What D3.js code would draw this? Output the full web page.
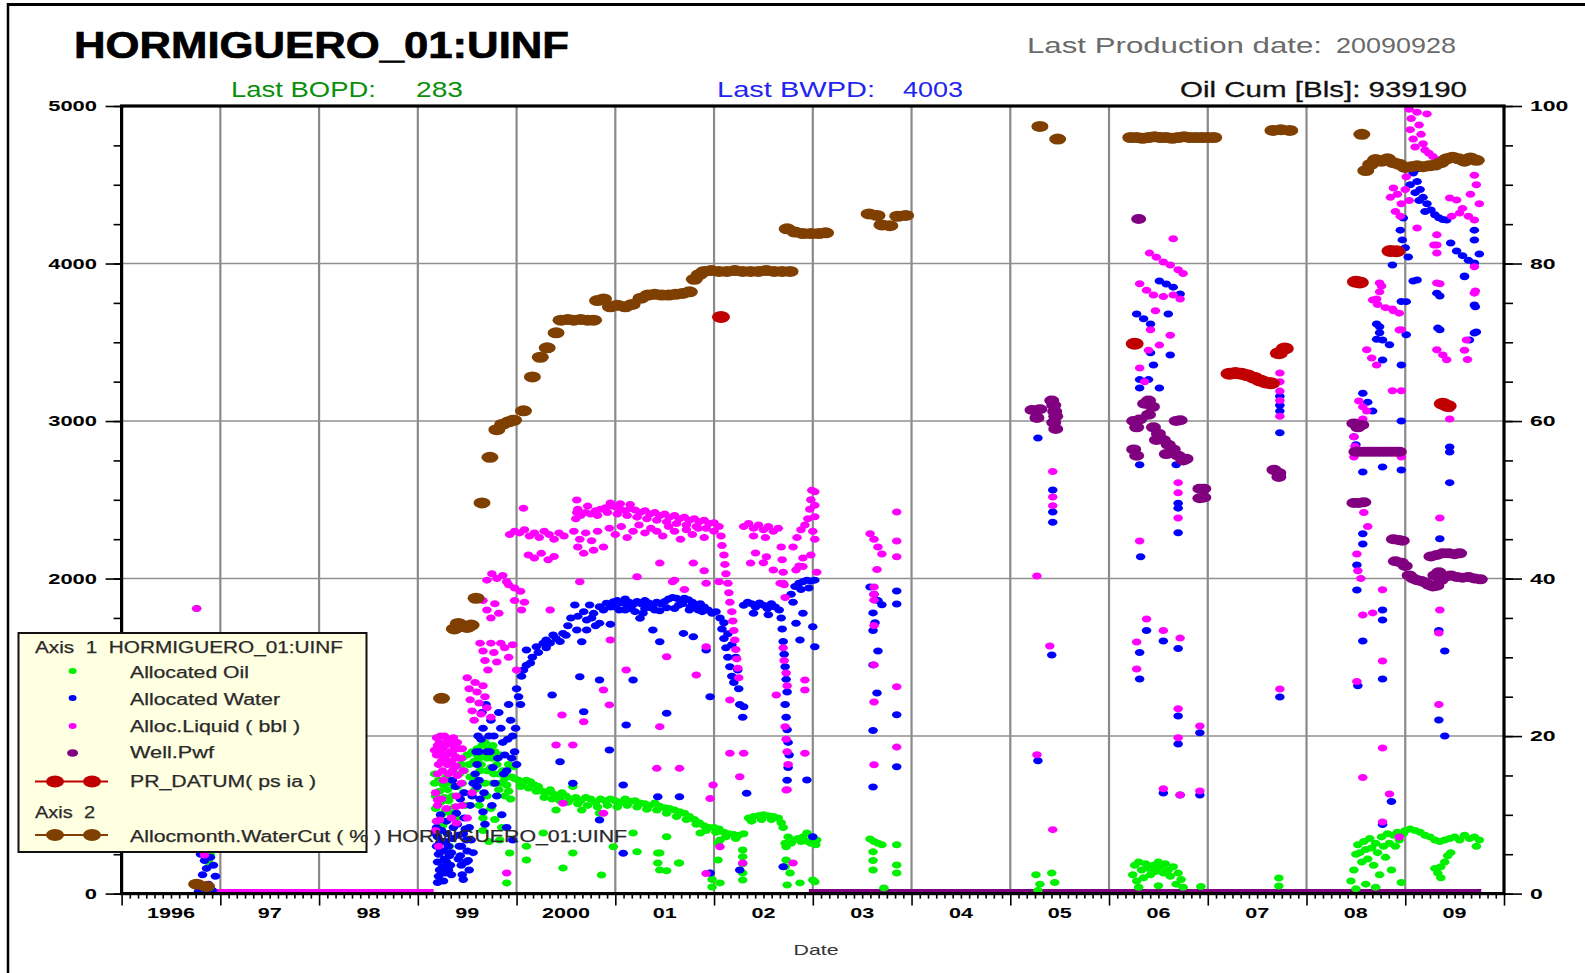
<!DOCTYPE html>
<html><head><meta charset="utf-8">
<script src="https://cdn.jsdelivr.net/npm/d3@7"></script>
<style>
html,body{margin:0;padding:0;background:#fff;}
svg{display:block;}
text{font-family:"Liberation Sans",Arial,sans-serif;white-space:pre;}
</style></head><body>
<svg id="c" width="1585" height="973"></svg>
<script>
// ---------------- DATA (decimal year, value) ----------------
const xTickYears = [1996,1997,1998,1999,2000,2001,2002,2003,2004,2005,2006,2007,2008,2009];
const xTickLabels = ["1996","97","98","99","2000","01","02","03","04","05","06","07","08","09"];
const leftTicks = [0,1000,2000,3000,4000,5000];
const leftTickLabels = ["0","1000","2000","3000","4000","5000"];
const rightTicks = [0,20,40,60,80,100];
const rightTickLabels = ["0","20","40","60","80","100"];

const oilData = [
[1996.76,1810],[1996.90,245],[1996.88,200],
[1999.17,760],[1999.17,700],[1999.18,620],[1999.18,540],[1999.19,460],[1999.20,380],[1999.21,720],[1999.22,650],[1999.23,580],[1999.24,500],[1999.25,430],[1999.26,690],[1999.27,610],[1999.28,530],[1999.29,740],[1999.30,660],[1999.31,590],[1999.32,300],[1999.34,700],[1999.35,620],[1999.37,550],[1999.39,480],[1999.40,680],[1999.42,760],[1999.44,820],[1999.45,700],[1999.46,640],[1999.45,860],[1999.47,780],[1999.48,560],[1999.50,880],[1999.52,820],[1999.53,740],[1999.55,900],[1999.57,840],[1999.58,660],[1999.60,920],[1999.62,860],[1999.63,780],[1999.65,940],[1999.67,880],[1999.68,700],[1999.70,860],[1999.72,920],[1999.74,800],[1999.75,860],[1999.77,760],[1999.78,900],[1999.80,820],[1999.82,760],[1999.84,700],[1999.86,780],[1999.88,730],[1999.90,690],[1999.92,650],[1999.95,740],[1999.98,730],
[1999.62,560],[1999.66,480],[1999.70,620],[1999.74,540],[1999.78,470],[1999.85,420],[1999.66,400],[1999.72,330],[1999.33,510],[1999.26,448],[1999.83,340],[1999.93,258],[1999.90,68],[1999.97,806],
[1999.58,720],[1999.64,820],[1999.70,780],[1999.76,700],[1999.82,660],[1999.88,620],[1999.94,600],[1999.60,880],[1999.68,960],[1999.76,940],[1999.84,880],[1999.92,820],
[2000.02,720],[2000.06,700],[2000.10,720],[2000.14,710],[2000.18,690],[2000.22,680],[2000.26,650],[2000.30,640],[2000.34,660],[2000.38,630],[2000.42,620],[2000.46,640],[2000.50,620],[2000.55,600],[2000.60,610],[2000.65,590],[2000.70,610],[2000.75,600],[2000.80,580],[2000.85,600],[2000.90,590],[2000.95,600],[2001.00,590],[2001.05,580],[2001.10,600],[2001.15,585],[2001.20,590],[2001.25,575],[2001.30,570],[2001.35,560],[2001.40,575],[2001.45,555],[2001.50,545],
[2000.04,680],[2000.12,670],[2000.20,650],[2000.28,610],[2000.36,600],[2000.44,590],[2000.52,580],[2000.62,570],[2000.72,560],[2000.82,550],[2000.92,560],[2001.02,550],[2001.12,560],[2001.22,550],[2001.32,535],[2001.42,530],[2001.52,510],[2001.62,490],[2001.72,470],[2001.82,440],[2001.92,400],[2002.02,390],[2002.12,360],[2002.22,350],[2002.38,460],[2002.48,470],[2002.58,470],[2002.68,450],[2002.78,320],[2002.88,330],[2002.98,320],
[2001.55,540],[2001.60,530],[2001.65,520],[2001.70,510],[2001.75,490],[2001.80,470],[2001.85,450],[2001.90,430],[2001.95,420],[2002.00,420],[2002.05,410],[2002.10,390],[2002.15,380],[2002.20,375],[2002.25,370],[2002.30,380],[2002.35,480],[2002.40,490],[2002.45,495],[2002.50,500],[2002.55,495],[2002.60,490],[2002.65,480],[2002.70,420],[2002.75,360],[2002.80,340],[2002.85,350],[2002.90,360],[2002.95,330],[2003.00,350],[2003.03,310],
[2000.40,530],[2000.57,680],[2000.66,530],[2000.84,510],[2000.10,300],[2000.10,213],[2000.27,385],[2000.47,163],[2000.57,258],[2000.86,118],[2000.98,298],[2001.22,266],[2001.18,385],[2001.45,258],[2001.45,150],[2001.52,361],[2001.65,194],[2001.86,385],[2001.96,131],[2002.06,340],[2002.06,68],[2002.29,234],[2002.29,131],[2002.73,298],[2002.73,213],[2002.77,131],[2002.87,68],[2003.00,86],[2003.04,340],[2002.94,385],
[2001.43,258],[2001.43,194],[2001.64,194],[2001.52,145],[2001.98,90],[2001.98,42],[2002.04,320],[2002.04,213],[2002.29,277],[2002.29,190],[2002.29,86],[2002.72,320],[2002.72,170],[2002.74,55],[2003.02,75],
[2003.58,347],[2003.62,330],[2003.66,320],[2003.70,310],[2003.61,265],[2003.61,210],[2003.61,150],[2003.85,310],[2003.85,181],[2003.85,131],[2003.72,36],
[2005.26,120],[2005.30,60],[2005.42,130],[2005.45,70],[2005.28,20],
[2006.24,120],[2006.26,180],[2006.28,80],[2006.30,200],[2006.33,150],[2006.35,100],[2006.37,190],[2006.40,160],[2006.42,120],[2006.45,180],[2006.47,140],[2006.50,200],[2006.52,170],[2006.55,130],[2006.57,190],[2006.60,150],[2006.62,110],[2006.65,170],[2006.68,60],[2006.70,130],[2006.73,90],[2006.75,40],[2006.30,40],[2006.50,50],[2006.93,45],
[2007.72,99],[2007.72,48],
[2008.45,80],[2008.48,150],[2008.50,250],[2008.52,310],[2008.54,260],[2008.56,200],[2008.58,330],[2008.60,280],[2008.62,220],[2008.64,350],[2008.66,290],[2008.68,180],[2008.70,320],[2008.72,260],[2008.74,120],[2008.76,360],[2008.78,300],[2008.80,230],[2008.82,380],[2008.84,320],[2008.86,150],[2008.88,370],[2008.90,300],[2008.92,390],[2008.94,340],[2008.96,70],[2008.98,380],[2009.00,400],[2009.05,410],[2009.10,400],[2009.15,390],[2009.20,370],[2009.25,360],[2009.30,340],[2009.35,330],[2009.40,340],[2009.45,350],[2009.50,360],[2009.55,340],[2009.60,370],[2009.65,350],[2009.70,360],[2009.75,340],[2009.72,300],
[2009.30,160],[2009.33,130],[2009.36,170],[2009.40,200],[2009.43,240],[2009.46,260],[2009.36,100],[2008.50,30],[2008.60,60],[2008.70,40]
];

const waterData = [
[1996.80,250],[1996.84,210],[1996.86,160],[1996.82,120],[1996.90,230],[1996.93,180],[1996.95,110],[1996.88,60],[1996.82,30],[1996.92,20],[1996.78,15],
[1999.19,420],[1999.20,360],[1999.19,300],[1999.21,250],[1999.20,200],[1999.22,150],[1999.21,110],[1999.24,400],[1999.25,330],[1999.26,270],[1999.27,220],[1999.25,170],[1999.28,130],[1999.30,380],[1999.31,300],[1999.32,240],[1999.33,180],[1999.34,120],[1999.29,460],[1999.23,500],[1999.20,70],[1999.26,80],
[1999.18,380],[1999.22,320],[1999.23,270],[1999.28,330],[1999.29,200],[1999.31,150],[1999.34,260],[1999.35,350],[1999.36,420],[1999.41,220],[1999.44,300],[1999.46,380],[1999.49,200],[1999.52,420],[1999.54,340],[1999.56,260],
[1999.39,510],[1999.40,440],[1999.41,370],[1999.42,300],[1999.43,240],[1999.44,180],[1999.45,120],[1999.47,480],[1999.48,410],[1999.49,340],[1999.50,270],[1999.51,210],[1999.52,150],[1999.53,560],[1999.55,620],[1999.56,700],[1999.47,640],[1999.43,600],[1999.38,680],[1999.35,720],[1999.46,90],
[1999.58,760],[1999.60,820],[1999.62,900],[1999.64,980],[1999.66,1050],[1999.60,680],[1999.63,600],[1999.66,520],[1999.68,440],[1999.70,900],[1999.72,1000],[1999.74,1100],[1999.76,800],[1999.78,700],[1999.80,620],[1999.82,1150],[1999.84,1050],[1999.86,960],[1999.88,880],[1999.90,780],[1999.92,1200],[1999.94,1100],[1999.96,1000],[1999.98,900],[2000.00,820],[1999.85,500],[1999.90,420],[1999.96,340],[2000.02,1250],[2000.05,1380],
[1999.59,900],[1999.61,1000],[1999.65,1150],[1999.69,1200],[1999.73,900],[1999.77,1000],[1999.81,860],[1999.87,760],[1999.91,980],[1999.95,860],[1999.99,1050],[1999.62,720],[1999.67,640],[1999.75,560],
[2000.07,1420],[2000.14,1464],[2000.10,1546],[2000.20,1567],[2000.27,1589],[2000.30,1610],[2000.37,1642],[2000.47,1652],[2000.61,1673],[2000.66,1599],[2000.71,1737],[2000.78,1779],[2000.84,1821],[2000.91,1843],[2000.98,1853],[2000.74,1832],[2000.59,1832],[2000.71,1673],[2000.84,1717],[2000.95,1710],
[2000.00,1300],[2000.04,1200],[2000.10,1450],[2000.16,1500],[2000.22,1530],[2000.30,1560],[2000.34,1590],[2000.40,1620],[2000.44,1600],[2000.50,1640],
[2000.52,1700],[2000.55,1750],[2000.62,1760],[2000.68,1790],[2000.76,1750],[2000.88,1800],[2000.95,1820],[2000.80,1700],
[2001.02,1860],[2001.06,1845],[2001.10,1870],[2001.14,1850],[2001.18,1835],[2001.22,1855],[2001.26,1840],[2001.30,1860],[2001.34,1845],[2001.38,1830],[2001.42,1850],[2001.46,1840],[2001.50,1855],[2001.54,1870],[2001.58,1880],[2001.62,1875],[2001.66,1860],[2001.70,1875],[2001.74,1865],[2001.78,1850],[2001.82,1830],[2001.86,1840],[2001.90,1820],[2001.94,1800],[2001.98,1780],[2002.02,1790],[2001.10,1800],[2001.20,1790],[2001.30,1810],[2001.45,1795],[2001.60,1810],[2001.75,1800],
[2001.04,1800],[2001.16,1810],[2001.28,1780],[2001.40,1800],[2001.52,1815],[2001.64,1830],[2001.76,1820],[2001.88,1790],[2001.00,1820],[2001.12,1830],[2001.36,1815],[2001.68,1840],[2001.84,1800],
[2002.06,1750],[2002.08,1680],[2002.10,1620],[2002.12,1560],[2002.14,1500],[2002.16,1440],[2002.18,1380],[2002.20,1340],[2002.10,1720],[2002.14,1650],[2002.18,1580],[2002.22,1500],[2002.24,1420],[2002.25,1300],[2002.26,1200],
[2002.30,1830],[2002.34,1850],[2002.38,1840],[2002.42,1820],[2002.46,1845],[2002.50,1830],[2002.54,1810],[2002.58,1840],[2002.62,1820],[2002.66,1800],[2002.40,1780],[2002.55,1770],
[2002.68,1750],[2002.69,1680],[2002.70,1600],[2002.71,1520],[2002.72,1440],[2002.73,1360],[2002.74,1280],[2002.72,1200],[2002.73,1120],[2002.74,1040],[2002.75,960],[2002.76,880],[2002.75,800],[2002.74,720],
[2002.78,1900],[2002.82,1950],[2002.86,1970],[2002.90,1980],[2002.94,1990],[2002.98,1985],[2003.02,1990],[2002.80,1850],[2002.88,1930],[2002.96,1940],
[2000.64,1377],[2000.84,1356],[2001.18,1356],[2000.36,1261],[2000.68,1155],[2001.11,1070],[2001.52,1145],[2001.96,1250],[2002.30,1186],[2002.29,1120],[2000.44,837],[2000.57,700],[2000.94,911],[2001.08,689],[2001.43,615],[2001.65,615],[2002.33,637],[2002.94,721],[2003.00,361],[2001.25,1748],[2001.38,1673],[2001.69,1652],[2001.79,1631],[2001.92,1546],[2001.45,1599],[2002.87,1610],[2003.00,1694],[2002.83,1716],[2003.02,1567],[2002.90,1780],[2000.84,467],[2001.08,256],[2002.70,171],[2002.26,150],[2001.96,131],
[2003.58,1946],[2003.62,1900],[2003.66,1860],[2003.70,1833],[2003.85,1921],[2003.85,1838],[2003.61,1782],[2003.63,1720],[2003.61,1670],[2003.66,1540],[2003.61,1452],[2003.65,1273],[2003.61,1035],[2003.85,1135],[2003.85,805],[2003.61,677],
[2005.28,2892],[2005.43,2562],[2005.43,2423],[2005.43,2357],[2005.42,1515],[2005.28,844],
[2006.51,3889],[2006.58,3870],[2006.65,3850],[2006.72,3807],[2006.28,3679],[2006.35,3650],[2006.42,3616],[2006.60,3679],[2006.42,3434],[2006.62,3419],[2006.45,3356],[2006.31,3263],[2006.40,3263],[2006.31,3210],[2006.51,3210],[2006.31,2722],[2006.68,2722],[2006.70,2478],[2006.70,2447],[2006.70,2291],[2006.32,2139],[2006.38,1670],[2006.55,1604],[2006.70,1556],[2006.31,1530],[2006.31,1362],[2006.70,1127],[2006.70,950],[2006.92,1021],[2006.55,639],[2006.72,626],[2006.92,626],
[2007.73,3158],[2007.73,3100],[2007.73,3063],[2007.73,2926],[2007.73,1248],
[2009.08,4575],[2009.12,4520],[2009.15,4470],[2009.18,4420],[2009.22,4380],[2009.26,4340],[2009.30,4310],[2009.34,4290],[2009.38,4280],[2009.42,4276],[2009.10,4450],[2009.14,4400],[2009.20,4330],[2009.05,4500],[2009.12,4600],
[2008.98,4289],[2008.95,4212],[2008.97,4150],[2009.00,4100],[2009.03,4041],[2008.87,3990],[2009.46,4130],[2009.52,4080],[2009.58,4050],[2009.64,4020],[2009.70,4003],[2009.75,4060],[2009.70,4212],[2009.70,4149],[2009.60,3916],[2009.12,3895],[2009.32,3812],[2009.01,3758],[2008.74,3599],[2009.70,3737],[2009.70,3559],[2009.33,3590],
[2008.96,3759],[2008.71,3616],[2008.74,3560],[2008.77,3514],[2008.71,3519],[2008.84,3484],[2008.77,3387],[2008.96,3356],[2008.57,3176],[2008.62,3120],[2008.67,3063],[2008.48,2900],[2008.50,2850],[2008.48,2803],[2008.57,2676],[2008.77,2708],[2008.96,2689],[2008.57,2285],[2008.57,2220],[2008.51,2086],[2008.51,1927],[2008.57,1604],[2008.77,1800],[2008.77,1737],[2008.77,1362],[2008.86,585],[2008.77,439],[2009.01,3548],[2009.08,3889],[2008.96,3000],[2009.35,3794],[2009.35,3580],[2009.45,2835],[2009.45,2803],[2009.45,2609],[2009.35,2253],[2009.34,1670],[2009.40,1540],[2009.34,1102],[2009.71,3726],[2009.65,3514],[2009.60,3921],[2009.72,3565],[2008.52,1320],[2009.40,1000]
];

const liquidData = [
[1996.76,1810],[1996.84,245],
[1999.19,990],[1999.20,940],[1999.19,880],[1999.21,820],[1999.20,760],[1999.22,960],[1999.23,900],[1999.24,840],[1999.25,780],[1999.26,720],[1999.27,1000],[1999.28,940],[1999.29,880],[1999.30,820],[1999.31,760],[1999.32,960],[1999.33,900],[1999.34,840],[1999.35,780],[1999.36,990],[1999.37,930],[1999.38,870],[1999.39,810],[1999.40,750],[1999.42,920],[1999.44,860],[1999.18,640],[1999.20,560],[1999.19,460],[1999.18,400],[1999.21,300],[1999.24,600],[1999.29,540],[1999.34,480],[1999.39,620],[1999.44,700],[1999.45,560],[1999.50,480],[1999.55,640],[1999.20,594],[1999.22,467],[1999.39,552],[1999.39,448],[1999.90,131],
[1999.17,910],[1999.21,880],[1999.23,1000],[1999.25,920],[1999.27,860],[1999.30,980],[1999.32,840],[1999.35,900],[1999.37,800],[1999.41,860],[1999.40,960],[1999.45,920],[1999.46,780],
[1999.50,1370],[1999.52,1300],[1999.53,1230],[1999.55,1160],[1999.57,1100],[1999.58,1340],[1999.60,1280],[1999.62,1210],[1999.64,1140],[1999.66,1320],[1999.68,1250],[1999.70,1180],[1999.74,1120],
[1999.63,1590],[1999.66,1540],[1999.68,1480],[1999.71,1420],[1999.74,1590],[1999.77,1530],[1999.80,1470],[1999.84,1590],[1999.88,1560],[1999.92,1500],[1999.96,1580],[2000.00,1420],
[1999.66,1860],[1999.70,1800],[1999.74,1750],[1999.78,1840],[1999.82,1780],[1999.98,1860],[2000.05,1800],[2000.08,1850],
[1999.70,1990],[1999.75,2030],[1999.80,2000],[1999.86,2020],[1999.92,1960],[1999.98,1940],[2000.04,1920],[1999.90,1980],
[1999.93,2280],[1999.98,2300],[2000.03,2290],[2000.08,2310],[2000.13,2270],[2000.18,2290],[2000.23,2260],[2000.28,2300],[2000.33,2280],[2000.38,2250],[2000.43,2290],[2000.48,2270],[2000.07,2446],[2000.61,2499],[2000.61,2420],
[2000.12,2150],[2000.18,2130],[2000.25,2160],[2000.32,2120],[2000.38,2140],[2000.62,2200],[2000.68,2160],[2000.78,2180],
[2000.60,2380],[2000.65,2400],[2000.70,2420],[2000.75,2410],[2000.80,2430],[2000.85,2440],[2000.90,2450],[2000.95,2460],[2001.00,2455],[2001.05,2440],[2001.10,2430],[2001.15,2445],[2001.20,2435],[2001.25,2420],[2001.30,2430],[2001.35,2410],[2001.40,2420],[2001.45,2400],[2001.50,2410],[2001.55,2390],[2001.60,2400],[2001.65,2380],[2001.70,2390],[2001.75,2370],[2001.80,2380],[2001.85,2360],[2001.90,2370],[2001.95,2350],[2002.00,2355],
[2000.62,2440],[2000.72,2460],[2000.82,2400],[2000.92,2420],[2001.02,2410],[2001.12,2400],[2001.22,2390],[2001.32,2380],[2001.42,2370],[2001.52,2360],[2001.62,2350],[2001.72,2340],[2001.82,2330],[2001.92,2320],[2002.00,2300],[2000.95,2480],[2001.05,2475],[2001.15,2470],
[2000.58,2300],[2000.64,2250],[2000.70,2290],[2000.76,2240],[2000.82,2300],[2000.88,2200],[2000.94,2320],[2001.00,2280],[2001.06,2330],[2001.12,2260],[2001.18,2300],[2001.24,2340],[2001.30,2290],[2001.36,2320],[2001.42,2300],[2001.48,2270],[2001.54,2330],[2001.60,2300],[2001.66,2250],[2001.72,2310],[2001.78,2280],[2001.84,2320],[2001.90,2260],
[2002.05,2330],[2002.07,2270],[2002.08,2210],[2002.10,2150],[2002.11,2090],[2002.12,2030],[2002.14,1970],[2002.15,1910],[2002.16,1850],[2002.18,1790],[2002.19,1730],[2002.20,1670],[2002.21,1610],[2002.22,1550],[2002.23,1490],[2002.24,1430],[2002.25,1370],
[2002.30,2330],[2002.35,2350],[2002.40,2320],[2002.45,2340],[2002.50,2310],[2002.55,2330],[2002.60,2300],[2002.65,2320],[2002.40,2270],[2002.52,2260],[2002.42,2162],[2002.50,2100],[2002.60,2054],
[2002.68,2200],[2002.69,2120],[2002.70,2040],[2002.71,1960],[2002.72,1880],[2002.70,1560],[2002.71,1480],[2002.73,1400],[2002.74,1320],[2002.72,1060],[2002.73,980],[2002.74,900],[2002.75,820],[2002.74,660],
[2002.80,2200],[2002.84,2260],[2002.88,2310],[2002.92,2340],[2002.95,2380],[2002.97,2440],[2002.98,2500],[2002.99,2560],[2003.00,2300],[2003.02,2250],[2002.98,2150],[2002.90,2130],[2002.86,2080],[2003.04,2040],[2003.02,2551],[2003.02,2466],[2003.02,2392],
[2000.34,1800],[2000.95,1610],[2001.11,1420],[2000.88,1293],[2000.94,1198],[2001.52,1504],[2001.82,1388],[2002.16,1229],[2002.92,1356],[2002.92,1293],[2002.63,1261],[2001.92,1567],[2001.45,1060],[2000.68,1091],[2000.46,1134],[2000.40,943],[2000.57,943],[2001.42,795],[2001.65,795],[2000.47,573],[2000.88,510],[2001.99,689],[2001.96,604],[2002.16,891],[2002.30,891],[2002.26,742],[2002.92,891],[2002.73,657],[2002.06,298],[2002.29,194],[2002.80,194],[2001.92,128],
[2001.58,1980],[2001.60,1990],[2001.90,2050],[2001.70,1930],[2000.64,1980],[2002.05,1980],[2002.70,1970],[2001.22,2012],[2001.45,2098],[2001.79,2098],[2001.92,1970],[2002.37,2098],[2002.53,2139],[2002.67,1970],[2002.83,2054],[2002.90,2077],
[2003.58,2285],[2003.62,2250],[2003.66,2200],[2003.70,2156],[2003.85,2423],[2003.85,2238],[2003.85,2139],[2003.65,2058],[2003.62,1946],[2003.62,1900],[2003.62,1863],[2003.62,1702],[2003.62,1452],[2003.62,1216],[2003.85,1313],[2003.85,930],[2003.62,818],
[2005.27,2016],[2005.43,2680],[2005.43,2518],[2005.43,2463],[2005.40,1572],[2005.27,882],[2005.43,406],
[2006.65,4157],[2006.41,4066],[2006.48,4040],[2006.55,4010],[2006.62,3990],[2006.70,3960],[2006.75,3937],[2006.31,3872],[2006.38,3830],[2006.45,3800],[2006.55,3790],[2006.65,3800],[2006.72,3775],[2006.42,3580],[2006.51,3482],[2006.62,3545],[2006.31,3337],[2006.31,2238],[2006.38,1743],[2006.28,1597],[2006.28,1426],[2006.55,1670],[2006.72,1622],[2006.70,1174],[2006.70,989],[2006.92,1064],[2006.55,665],[2006.72,626],[2006.92,651],[2006.70,2609],[2006.70,2544],[2006.70,2385],[2006.47,3700],[2006.40,3450],[2006.36,3250],
[2007.73,3305],[2007.73,3250],[2007.73,3190],[2007.73,3130],[2007.73,3030],[2007.73,1299],
[2009.04,4980],[2009.06,4920],[2009.05,4850],[2009.08,4790],[2009.10,4740],[2009.12,4960],[2009.14,4880],[2009.16,4820],[2009.18,4760],[2009.20,4720],[2009.24,4700],[2009.28,4680],[2009.32,4660],[2009.36,4650],[2009.22,4950],
[2008.85,4420],[2008.88,4480],[2008.92,4440],[2008.96,4380],[2008.90,4330],[2008.95,4300],[2009.00,4470],[2009.04,4400],[2009.01,4551],
[2009.45,4416],[2009.52,4403],[2009.58,4350],[2009.64,4300],[2009.70,4276],[2009.75,4380],[2009.70,4560],[2009.72,4500],[2009.66,4440],[2009.55,4320],[2009.47,4300],
[2008.74,3876],[2008.74,3820],[2008.67,3768],[2008.72,3740],[2008.80,3720],[2008.88,3700],[2008.94,3685],[2008.94,3578],[2009.32,4182],[2009.32,4118],[2009.32,4067],[2009.32,3876],[2009.70,3812],[2009.70,3980],[2009.12,4225],
[2008.76,3857],[2008.71,3775],[2008.87,3711],[2008.61,3452],[2008.66,3400],[2008.71,3356],[2008.53,3127],[2008.57,3090],[2008.61,3063],[2008.87,3192],[2008.96,3580],[2008.96,3192],[2008.96,2772],[2008.57,3013],[2008.48,2900],[2008.49,2840],[2008.48,2772],[2008.51,2156],[2008.57,1769],[2008.67,1782],[2008.77,1929],[2008.77,1477],[2008.77,924],[2008.57,737],[2008.84,632],[2008.77,455],[2008.94,359],[2009.32,3452],[2009.38,3420],[2009.42,3389],[2009.35,3872],[2009.29,4118],[2009.35,2385],[2009.35,1800],[2009.34,1654],[2009.34,1200],[2009.71,3825],[2009.62,3514],[2009.60,3450],[2009.63,3390],[2009.45,3078],[2009.45,3013],[2008.58,2420],[2008.62,2330],[2008.52,2050],[2008.55,2000],[2008.51,1346]
];

const pwfData = [
[2005.22,3070],[2005.27,3020],[2005.30,3075],[2005.42,3130],[2005.44,3100],[2005.45,3060],[2005.46,3030],[2005.44,2990],[2005.46,2950],
[2006.30,4283],
[2006.25,3000],[2006.28,2960],[2006.31,3010],[2006.36,3110],[2006.40,3130],[2006.44,3090],[2006.40,3040],[2006.45,2960],[2006.50,2920],[2006.55,2880],[2006.60,2850],[2006.65,2820],[2006.70,2780],[2006.75,2750],[2006.78,2760],[2006.58,2790],[2006.48,2880],[2006.25,2820],[2006.28,2780],[2006.68,3000],[2006.72,3005],
[2006.92,2570],[2006.96,2570],[2006.92,2510],[2006.96,2515],
[2007.67,2690],[2007.72,2670],[2007.72,2645],
[2008.48,2985],[2008.52,2960],[2008.56,2975],
[2008.50,2805],[2008.54,2805],[2008.58,2805],[2008.62,2805],[2008.66,2805],[2008.70,2805],[2008.74,2805],[2008.78,2805],[2008.82,2805],[2008.86,2805],[2008.90,2805],[2008.94,2805],
[2008.48,2480],[2008.53,2480],[2008.58,2485],
[2008.88,2250],[2008.93,2245],[2008.97,2240],
[2008.90,2110],[2008.96,2100],[2009.00,2080],
[2009.04,2020],[2009.08,2000],[2009.12,1990],[2009.16,1985],[2009.20,1975],[2009.24,1960],[2009.28,1950],[2009.32,1955],[2009.36,1990],
[2009.26,2140],[2009.32,2150],[2009.38,2160],[2009.44,2160],[2009.50,2155],[2009.55,2160],
[2009.40,2010],[2009.46,2020],[2009.52,2010],[2009.58,2005],[2009.64,2010],[2009.70,2000],[2009.76,1995],[2009.30,2020],[2009.34,2040]
];

const prDatumData = [
[2002.07,3660],[2006.26,3490],
[2007.22,3300],[2007.28,3305],[2007.34,3300],[2007.40,3290],[2007.47,3275],[2007.53,3258],[2007.59,3245],[2007.64,3240],[2007.72,3430],[2007.78,3460],
[2008.50,3885],[2008.54,3880],[2008.85,4080],[2008.91,4078],[2009.38,3110],[2009.43,3095]
];

const waterCutData = [
[1996.76,1.2],[1996.86,0.9],
[1999.24,24.8],
[1999.37,33.6],[1999.41,34.3],[1999.45,34.0],[1999.50,33.8],[1999.54,34.1],
[1999.59,37.5],
[1999.65,49.6],[1999.73,55.4],
[1999.80,58.9],[1999.86,59.6],[1999.92,59.9],[1999.97,60.1],
[2000.07,61.3],[2000.16,65.6],[2000.24,68.1],[2000.31,69.3],[2000.40,71.2],
[2000.45,72.8],[2000.52,72.9],[2000.58,72.8],[2000.65,72.9],[2000.72,72.8],[2000.78,72.8],
[2000.82,75.3],[2000.88,75.5],
[2000.95,74.5],[2001.02,74.7],[2001.10,74.5],[2001.17,74.8],
[2001.26,75.6],[2001.33,76.0],[2001.40,76.1],[2001.47,76.0],[2001.54,76.0],[2001.61,76.1],[2001.68,76.2],[2001.75,76.4],
[2001.80,78.0],[2001.85,78.6],
[2001.90,79.0],[2001.97,79.1],[2002.05,79.0],[2002.13,79.0],[2002.21,79.1],[2002.29,79.0],[2002.37,79.0],[2002.45,79.0],[2002.53,79.1],[2002.61,79.0],[2002.69,79.0],[2002.77,79.0],
[2002.74,84.4],[2002.82,84.0],[2002.90,83.8],[2002.98,83.8],[2003.06,83.8],[2003.13,83.9],
[2003.57,86.3],[2003.65,86.1],[2003.70,84.9],[2003.78,84.8],[2003.86,86.0],[2003.94,86.1],
[2005.30,97.4],[2005.48,95.8],
[2006.22,96.0],[2006.28,96.0],[2006.34,95.9],[2006.40,96.0],[2006.46,96.1],[2006.52,96.0],[2006.58,96.0],[2006.64,95.9],[2006.70,96.0],[2006.76,96.1],[2006.82,96.0],[2006.88,96.0],[2006.94,96.0],[2007.00,96.0],[2007.06,96.0],
[2007.66,96.9],[2007.74,97.0],[2007.83,96.9],
[2008.56,96.4],[2008.60,91.8],[2008.65,92.6],[2008.70,93.2],[2008.76,93.0],[2008.82,93.3],[2008.88,92.8],[2008.94,92.6],[2009.00,92.2],[2009.06,92.3],[2009.12,92.4],[2009.18,92.3],[2009.24,92.4],[2009.30,92.5],[2009.36,92.8],[2009.42,93.3],[2009.48,93.5],[2009.54,93.3],[2009.60,93.0],[2009.66,93.4],[2009.72,93.1]
];

// runs of zero readings (start year, end year)
const liquidZeroRuns = [[1996.96,1999.16]];
const pwfZeroRuns = [[2002.96,2009.77]];

// ---------------- DRAWING ----------------
const svg = d3.select("#c");
const M = {left:121.6, right:1504, top:106, bottom:893.6};
const x = d3.scaleLinear().domain([1996,2010]).range([M.left,M.right]);
const yL = d3.scaleLinear().domain([0,5000]).range([M.bottom,M.top]);
const yR = d3.scaleLinear().domain([0,100]).range([M.bottom,M.top]);

const C = {oil:"#00f000", water:"#0000ff", liquid:"#ff00ff", pwf:"#800080", pr:"#c00000", wc:"#7f3f00"};

// outer frame (partial border)
svg.append("line").attr("x1",7).attr("y1",4.5).attr("x2",1585).attr("y2",4.5).attr("stroke","#000").attr("stroke-width",3);
svg.append("line").attr("x1",8).attr("y1",3).attr("x2",8).attr("y2",973).attr("stroke","#000").attr("stroke-width",2.5);

// grid
const grid = svg.append("g");
grid.selectAll(null).data(xTickYears.slice(1)).join("line")
  .attr("x1",d=>x(d)).attr("x2",d=>x(d)).attr("y1",M.top).attr("y2",M.bottom)
  .attr("stroke","#8a8a8a").attr("stroke-width",2.2);
grid.selectAll(null).data(leftTicks.slice(1,-1)).join("line")
  .attr("x1",M.left).attr("x2",M.right).attr("y1",d=>yL(d)).attr("y2",d=>yL(d))
  .attr("stroke","#909090").attr("stroke-width",1.5);

// axes ticks via d3 axes
function styleAxis(g){ g.select(".domain").remove(); g.selectAll("line").attr("stroke","#000").attr("stroke-width",1.6); g.selectAll("text").remove(); }
svg.append("g").attr("transform",`translate(${M.left},0)`).call(d3.axisLeft(yL).tickValues(leftTicks).tickSize(16).tickFormat("")).call(styleAxis);
svg.append("g").attr("transform",`translate(${M.left},0)`).call(d3.axisLeft(yL).tickValues(d3.range(0,5001,250)).tickSize(8).tickFormat("")).call(styleAxis);
svg.append("g").attr("transform",`translate(${M.right},0)`).call(d3.axisRight(yR).tickValues(rightTicks).tickSize(18).tickFormat("")).call(styleAxis);
svg.append("g").attr("transform",`translate(${M.right},0)`).call(d3.axisRight(yR).tickValues(d3.range(0,101,5)).tickSize(9).tickFormat("")).call(styleAxis);
svg.append("g").attr("transform",`translate(0,${M.bottom})`).call(d3.axisBottom(x).tickValues(xTickYears.concat([2010])).tickSize(12).tickFormat("")).call(styleAxis);
const months=[]; for(let yy=1996; yy<2010; yy++) for(let k=1;k<12;k++) months.push(yy+k/12);
svg.append("g").attr("transform",`translate(0,${M.bottom})`).call(d3.axisBottom(x).tickValues(months).tickSize(5).tickFormat("")).call(styleAxis);

// data
const gd = svg.append("g");
function runs(data, color){
  gd.selectAll(null).data(data).join("line")
    .attr("x1",d=>x(d[0])).attr("x2",d=>x(d[1])).attr("y1",yL(0)-2.5).attr("y2",yL(0)-2.5)
    .attr("stroke",color).attr("stroke-width",4);
}
function dots(data, ys, color, rx, ry){
  gd.append("g").selectAll("ellipse").data(data).join("ellipse")
    .attr("cx",d=>x(d[0])).attr("cy",d=>ys(d[1])).attr("rx",rx).attr("ry",ry).attr("fill",color);
}
runs(liquidZeroRuns, C.liquid);
runs(pwfZeroRuns, C.pwf);
dots(oilData, yL, C.oil, 4.8, 3.5);
dots(waterData, yL, C.water, 4.8, 3.5);
dots(liquidData, yL, C.liquid, 4.8, 3.5);
dots(pwfData, yL, C.pwf, 7.5, 5);
dots(prDatumData, yL, C.pr, 9, 6);
dots(waterCutData, yR, C.wc, 8.5, 5.5);

// plot frame
svg.append("rect").attr("x",M.left).attr("y",M.top).attr("width",M.right-M.left).attr("height",M.bottom-M.top)
  .attr("fill","none").attr("stroke","#000").attr("stroke-width",3.2);

// tick labels
function lbl(t, xx, yy, len, opts={}){
  const e = svg.append("text").attr("x",xx).attr("y",yy).text(t)
    .attr("font-size",opts.size||14).attr("font-weight",opts.weight||"bold")
    .attr("fill",opts.fill||"#000").attr("text-anchor",opts.anchor||"start");
  if(len) e.attr("textLength",len).attr("lengthAdjust","spacingAndGlyphs");
  if(opts.stroke) e.attr("stroke",opts.fill||"#000").attr("stroke-width",opts.stroke);
  return e;
}
leftTicks.forEach((v,i)=>{ const t=leftTickLabels[i]; lbl(t, 97, yL(v)+5, t.length*12.2, {anchor:"end"}); });
rightTicks.forEach((v,i)=>{ const t=rightTickLabels[i]; lbl(t, 1530, yR(v)+5, t.length*12.8, {}); });
xTickYears.forEach((yr,i)=>{ const t=xTickLabels[i]; lbl(t, x(yr+0.5), 918, t.length*12, {anchor:"middle"}); });
lbl("Date", 816, 955, 45, {anchor:"middle", weight:"normal", size:15, fill:"#333"});

// header texts
lbl("HORMIGUERO_01:UINF", 74, 58, 495, {size:37, weight:"bold", stroke:0.7});
lbl("Last Production date:", 1027, 53, 295, {size:22, weight:"normal", fill:"#6a6a6a"});
lbl("20090928", 1336, 53, 120, {size:22, weight:"normal", fill:"#6a6a6a"});
lbl("Last BOPD:", 231, 97, 145, {size:22, weight:"normal", fill:"#0a8f0a"});
lbl("283", 416, 97, 47, {size:22, weight:"normal", fill:"#0a8f0a"});
lbl("Last BWPD:", 717, 97, 158, {size:22, weight:"normal", fill:"#2424f0"});
lbl("4003", 903, 97, 60, {size:22, weight:"normal", fill:"#2424f0"});
lbl("Oil Cum [Bls]: 939190", 1180, 97, 287, {size:22, weight:"normal", fill:"#111", stroke:0.3});

// legend
const lg = svg.append("g");
lg.append("rect").attr("x",18.5).attr("y",633).attr("width",348).attr("height",219)
  .attr("fill","#ffffe1").attr("stroke","#111").attr("stroke-width",2);
const legendItems = [
  {t:"Axis  1  HORMIGUERO_01:UINF", x:35, y:653, len:308},
  {t:"Allocated Oil", x:130, y:678, len:119, dot:C.oil, dy:671},
  {t:"Allocated Water", x:130, y:705, len:150, dot:C.water, dy:698},
  {t:"Alloc.Liquid ( bbl )", x:130, y:731.5, len:170, dot:C.liquid, dy:726},
  {t:"Well.Pwf", x:130, y:758, len:84, dot:C.pwf, dy:753, big:true},
  {t:"PR_DATUM( ps ia )", x:130, y:787, len:186, line:C.pr, dy:781.5},
  {t:"Axis  2", x:35, y:817.5, len:60},
  {t:"Allocmonth.WaterCut ( % ) HORMIGUERO_01:UINF", x:130, y:841.5, len:497, line:C.wc, dy:835}
];
legendItems.forEach(it=>{
  lbl(it.t, it.x, it.y, it.len, {size:16, weight:"normal", fill:"#2a2a2a", stroke:0.25});
  if(it.dot){
    lg.append("ellipse").attr("cx",72.6).attr("cy",it.dy).attr("rx",it.big?5.5:4).attr("ry",it.big?3.8:3).attr("fill",it.dot);
  }
  if(it.line){
    lg.append("line").attr("x1",35).attr("x2",108).attr("y1",it.dy).attr("y2",it.dy).attr("stroke",it.line).attr("stroke-width",2);
    [55,92].forEach(cx=> lg.append("ellipse").attr("cx",cx).attr("cy",it.dy).attr("rx",9).attr("ry",6).attr("fill",it.line));
  }
});
</script>
</body></html>
